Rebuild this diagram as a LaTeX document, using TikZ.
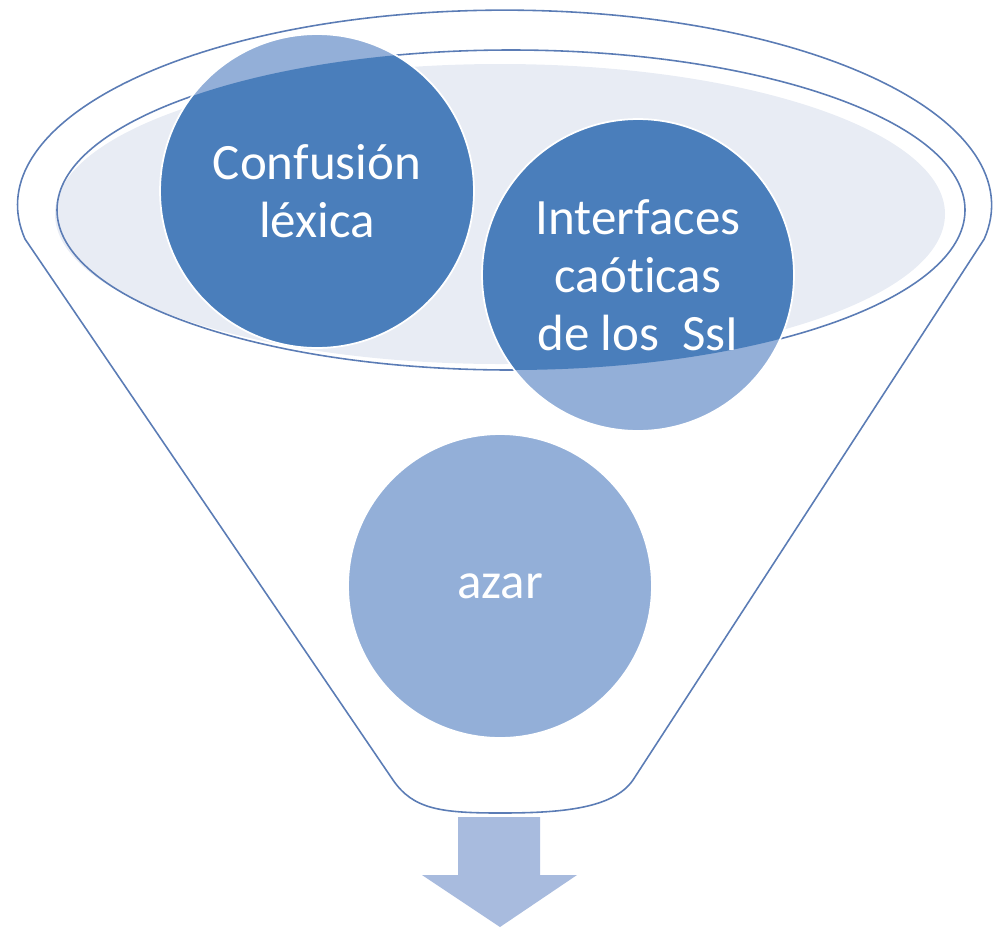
\documentclass[tikz,border=0pt]{standalone}
\usepackage{fontspec}
\setmainfont{Carlito}[Ligatures=NoCommon]
\usetikzlibrary{positioning,calc}
\definecolor{funnelline}{HTML}{5B7CB5}
\definecolor{cupfill}{HTML}{E8ECF4}
\definecolor{bubbledark}{HTML}{4A7EBB}
\definecolor{bubblelight}{HTML}{93AFD8}
\definecolor{arrowfill}{HTML}{A8BBDE}
\tikzset{
bubble/.style={
  circle,
  inner sep=0pt,
  fill=bubblelight,
  draw=white,
  line width=1pt,
  text=white,
  align=center,
  font=\fontsize{29}{33}\selectfont,
  % part inside the cup is darker
  path picture={\fill[bubbledark] (cup) ellipse [x radius=454, y radius=160];}
  },
funnel/.style={draw=funnelline, line width=0.9pt},
%cuptext/.style={font=\small}
}

\begin{document}
\begin{tikzpicture}[x=0.02cm, y=0.02cm]
    \useasboundingbox (0,0) rectangle (993,-927);
    \coordinate (cup) at (511,-210);
    % funnel outline
    \draw [funnel] (25,-239) arc [start angle=190, end angle=-10, x radius=487, y radius=195]
        -- (633,-780) .. controls (613,-809) and (560,-813) .. (500,-813)
        .. controls (440,-813) and (413,-809) .. (393,-780) -- cycle;
    \fill [cupfill] (500,-214) ellipse [x radius=445, y radius=150];
    \draw [funnel] (cup) ellipse [x radius=454, y radius=160];

    \node [bubble, minimum size=6.28cm] (lexica) at (317,-191) {Confusión\\léxica};
    \node [bubble, minimum size=6.24cm] (ssi) at (638,-275) {Interfaces\\caóticas\\de los\ \ SsI};
    \node [bubble, minimum size=6.08cm] (azar) at (500,-586) {azar};

    \fill [arrowfill] (458,-817) -- (540,-817) -- (540,-875) -- (577,-875)
        -- (500,-927) -- (422,-875) -- (458,-875) -- cycle;
\end{tikzpicture}
\end{document}
